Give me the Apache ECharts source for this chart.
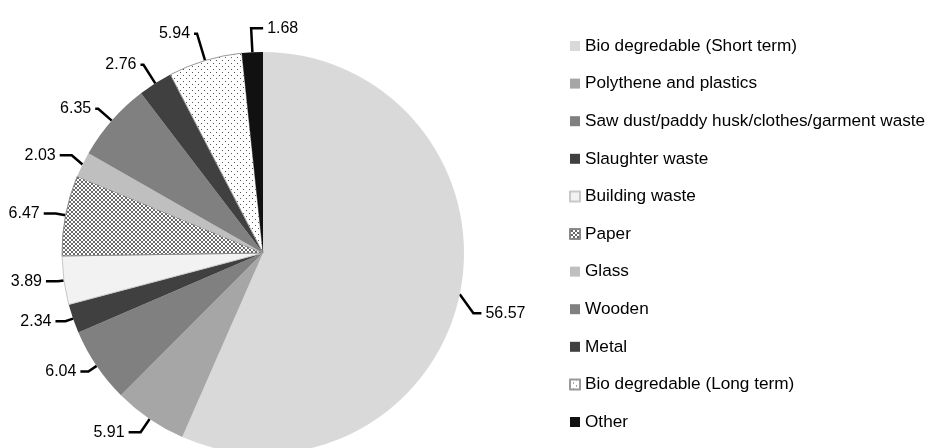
<!DOCTYPE html>
<html>
<head>
<meta charset="utf-8">
<script src="https://cdn.jsdelivr.net/npm/echarts@6/dist/echarts.min.js"></script>
<style>
  html, body { margin: 0; padding: 0; background: #fff; }
  #chart { width: 927px; height: 448px; }
</style>
</head>
<body>
<div id="chart"></div>
<script>
// Waste composition (%)
const categories = [
  'Bio degredable (Short term)',
  'Polythene and plastics',
  'Saw dust/paddy husk/clothes/garment waste',
  'Slaughter waste',
  'Building waste',
  'Paper',
  'Glass',
  'Wooden',
  'Metal',
  'Bio degredable (Long term)',
  'Other'
];
const shares = [56.57, 5.91, 6.04, 2.34, 3.89, 6.47, 2.03, 6.35, 2.76, 5.94, 1.68];

// Leader line segments per slice: radial part, then horizontal part
const leaderRadial = [14, 16, 10, 8, 6, 10, 12, 18, 22, 28, 24];
const leaderFlat   = [8, 12, 8, 10, 12, 12, 12, 3, 3, 3, 12];
// Extra vertical drop of the elbow (px), to angle the leader downward
const leaderDrop   = [16, 0, 0, 0, 0, 0, -4, 0, 0, 0, 0];
// Labels placed on the right of their leader regardless of side
const flipRight    = [false, false, false, false, false, false, false, false, false, false, true];

// Fill patterns built on small canvases
function makePattern(size, bg, pixels, fg) {
  const c = document.createElement('canvas');
  c.width = size; c.height = size;
  const ctx = c.getContext('2d');
  ctx.fillStyle = bg;
  ctx.fillRect(0, 0, size, size);
  ctx.fillStyle = fg;
  pixels.forEach(p => ctx.fillRect(p[0], p[1], 1, 1));
  return { image: c, repeat: 'repeat' };
}
const crossHatch = makePattern(4, '#ffffff',
  [[0,0],[1,1],[2,2],[3,3],[3,0],[2,1],[1,2],[0,3]], '#6a6a6a');
const dotted = makePattern(6, '#ffffff', [[0,0],[3,3]], '#555555');

const fills = [
  '#d9d9d9', '#a6a6a6', '#808080', '#404040', '#f2f2f2',
  crossHatch, '#bfbfbf', '#808080', '#404040', dotted, '#111111'
];
const borders = [null, null, null, null, '#c8c8c8', '#8a8a8a', null, null, null, '#9a9a9a', null];

const data = categories.map((name, i) => ({
  name,
  value: shares[i],
  itemStyle: borders[i]
    ? { color: fills[i], borderColor: borders[i], borderWidth: 1 }
    : { color: fills[i], borderWidth: 0 },
  labelLine: { length: leaderRadial[i], length2: leaderFlat[i] }
}));

const chart = echarts.init(document.getElementById('chart'), null, { renderer: 'canvas' });
chart.setOption({
  animation: false,
  backgroundColor: '#ffffff',
  textStyle: { fontFamily: 'Liberation Sans, Arial, sans-serif' },
  legend: {
    orient: 'vertical',
    left: 564,
    top: 32,
    itemWidth: 10,
    itemHeight: 10,
    itemGap: 19.6,
    icon: 'rect',
    data: categories,
    textStyle: {
      fontSize: 17.2,
      lineHeight: 18,
      color: '#000'
    }
  },
  series: [{
    type: 'pie',
    center: [263, 253],
    radius: 201,
    startAngle: 90,
    clockwise: true,
    avoidLabelOverlap: false,
    data,
    label: {
      show: true,
      position: 'outside',
      formatter: p => p.value.toFixed(2),
      fontSize: 16,
      width: 60,
      color: '#000',
      distanceToLabelLine: 4
    },
    labelLine: {
      show: true,
      lineStyle: { color: '#000', width: 2.5 }
    },
    labelLayout: function (params) {
      const i = params.dataIndex;
      const pts = params.labelLinePoints;
      if (!pts) return {};
      const drop = leaderDrop[i];
      if (flipRight[i]) {
        const p1 = [pts[1][0], pts[1][1] + drop];
        const p2 = [p1[0] + leaderFlat[i], p1[1]];
        return {
          x: p2[0] + 4,
          y: p1[1],
          align: 'left',
          verticalAlign: 'middle',
          labelLinePoints: [pts[0], p1, p2]
        };
      }
      if (drop) {
        return {
          dy: drop,
          labelLinePoints: [pts[0], [pts[1][0], pts[1][1] + drop], [pts[2][0], pts[2][1] + drop]]
        };
      }
      return {};
    },
    emphasis: { disabled: true }
  }]
});
</script>
</body>
</html>
